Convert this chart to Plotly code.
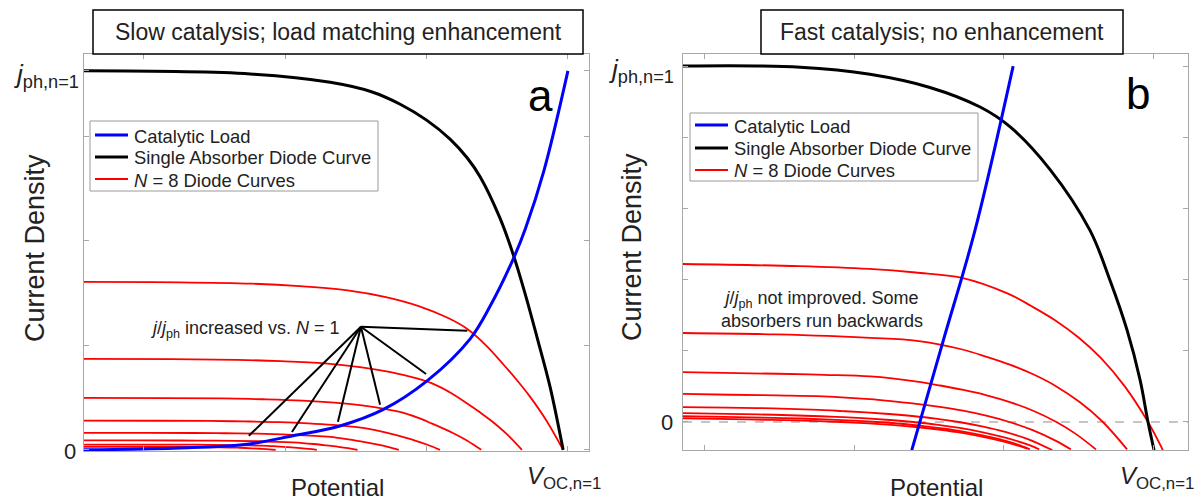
import plotly.graph_objects as go

W, H = 1196, 502

# ---------------- Panel a data (x: V / V_OC,n=1 ; y: j / j_ph,n=1) ----------------
a_load_x = [0, 0.2, 0.34, 0.436, 0.534, 0.624, 0.716, 0.806, 0.848, 0.896, 0.921, 0.96, 1.01]
a_load_y = [0, 0.005, 0.015, 0.037, 0.063, 0.106, 0.182, 0.293, 0.38, 0.504, 0.583, 0.737, 1.0]

a_single_x = [0, 0.347, 0.514, 0.60, 0.66, 0.715, 0.764, 0.80, 0.827, 0.868, 0.896, 0.92, 0.946, 0.973, 1.0]
a_single_y = [1.0, 0.992, 0.97, 0.945, 0.912, 0.87, 0.82, 0.77, 0.72, 0.612, 0.515, 0.415, 0.295, 0.165, 0]

# N = 8 curves of panel a: each is the same read shape, scaled to its own
# short-circuit current (a_red_jsc) and open-circuit potential (a_red_voc)
a_red_jsc = [0.443, 0.24, 0.137, 0.077, 0.045, 0.025, 0.014, 0.008]
a_red_voc = [1.0, 0.914, 0.829, 0.743, 0.657, 0.571, 0.486, 0.40]
a_red_profile_x = [0, 0.2, 0.35, 0.45, 0.55, 0.63, 0.70, 0.76, 0.80, 0.84, 0.875, 0.905, 0.93, 0.965, 1.0]
a_red_profile_y = [1, 0.998, 0.99, 0.975, 0.95, 0.91, 0.855, 0.785, 0.72, 0.62, 0.51, 0.41, 0.32, 0.175, 0]

# ---------------- Panel b data ----------------
b_load_x = [0.492, 0.56, 0.628, 0.71]
b_load_y = [-0.079, 0.23, 0.539, 1.0]

b_single_x = [0, 0.252, 0.402, 0.531, 0.639, 0.703, 0.789, 0.875, 0.918, 0.955, 0.983, 1.0, 1.013]
b_single_y = [1.0, 0.997, 0.977, 0.94, 0.885, 0.83, 0.71, 0.539, 0.399, 0.258, 0.118, 0, -0.079]

b_red_x = [
    [0, 0.25, 0.4, 0.5, 0.6, 0.7, 0.75, 0.8, 0.85, 0.9, 0.95, 1.0, 1.032],
    [0, 0.2, 0.403, 0.503, 0.603, 0.653, 0.703, 0.753, 0.803, 0.853, 0.903, 0.955],
    [0, 0.203, 0.303, 0.403, 0.503, 0.553, 0.603, 0.653, 0.703, 0.753, 0.803, 0.843, 0.888],
    [0, 0.102, 0.202, 0.302, 0.402, 0.452, 0.502, 0.552, 0.602, 0.652, 0.702, 0.752, 0.802, 0.834],
    [0, 0.093, 0.193, 0.293, 0.343, 0.393, 0.443, 0.493, 0.543, 0.593, 0.643, 0.693, 0.743, 0.794],
    [0, 0.095, 0.195, 0.295, 0.345, 0.395, 0.445, 0.495, 0.545, 0.595, 0.645, 0.695, 0.745, 0.766],
    [0, 0.117, 0.217, 0.267, 0.317, 0.367, 0.417, 0.467, 0.517, 0.567, 0.617, 0.667, 0.717, 0.746],
    [0, 0.14, 0.19, 0.24, 0.29, 0.34, 0.39, 0.44, 0.49, 0.54, 0.59, 0.64, 0.69, 0.74],
]
b_red_y = [
    [0.444, 0.438, 0.43, 0.42, 0.405, 0.36, 0.325, 0.286, 0.238, 0.178, 0.100, 0, -0.079],
    [0.25, 0.246, 0.2365, 0.228, 0.203, 0.183, 0.161, 0.134, 0.100, 0.056, 0, -0.077],
    [0.14, 0.1355, 0.1325, 0.128, 0.1135, 0.1025, 0.090, 0.075, 0.056, 0.0315, 0, -0.032, -0.077],
    [0.079, 0.0765, 0.0747, 0.072, 0.064, 0.0578, 0.0509, 0.0423, 0.0317, 0.0178, 0, -0.023, -0.053, -0.077],
    [0.042, 0.0405, 0.0383, 0.034, 0.0307, 0.027, 0.0225, 0.0168, 0.0095, 0, -0.0123, -0.028, -0.0486, -0.079],
    [0.025, 0.0228, 0.0203, 0.0161, 0.0134, 0.010, 0.0056, 0, -0.0073, -0.0168, -0.029, -0.0448, -0.065, -0.077],
    [0.0165, 0.0138, 0.011, 0.0091, 0.0068, 0.0038, 0, -0.005, -0.0114, -0.0197, -0.0304, -0.0442, -0.0622, -0.077],
    [0.0105, 0.0071, 0.0059, 0.0044, 0.0025, 0, -0.0032, -0.0074, -0.0127, -0.0197, -0.0286, -0.0403, -0.0552, -0.0746],
]

# tick positions (same units as data)
a_xticks = [0.125, 0.42, 0.715, 1.01]
a_yticks = [0, 0.276, 0.552, 0.828, 1.0]
b_xticks = [0.047, 0.369, 0.690, 1.011]
b_yticks = [0, 0.2, 0.4, 0.6, 0.8, 1.0]

# annotation pointer lines in panel a (hub -> near each intersection)
a_hub = (0.578, 0.325)
a_pointer_ends = [(0.80, 0.314), (0.714, 0.20), (0.618, 0.119), (0.530, 0.074), (0.434, 0.047), (0.344, 0.037)]

legend_labels = ["Catalytic Load", "Single Absorber Diode Curve", "<i>N</i> = 8 Diode Curves"]

FONT = "Liberation Sans, Arial, Helvetica, sans-serif"
TXT = "#222222"
BLUE, BLACK, RED = "#0000ff", "#000000", "#ff0000"
LEG_COLORS = [BLUE, BLACK, RED]
LEG_WIDTHS = [3, 3, 1.8]


def px(x):
    return x / W


def py(y):
    return 1 - y / H


fig = go.Figure()

# ---- panel a traces ----
for jsc, voc in zip(a_red_jsc, a_red_voc):
    fig.add_trace(go.Scatter(x=[voc * f for f in a_red_profile_x], y=[jsc * f for f in a_red_profile_y],
                             mode="lines", xaxis="x", yaxis="y",
                             line=dict(color=RED, width=1.8, shape="spline"),
                             name="N = 8 Diode Curves", showlegend=False, hoverinfo="skip"))
fig.add_trace(go.Scatter(x=a_single_x, y=a_single_y, mode="lines", xaxis="x", yaxis="y",
                         line=dict(color=BLACK, width=3, shape="spline"),
                         name="Single Absorber Diode Curve", showlegend=False, hoverinfo="skip"))
fig.add_trace(go.Scatter(x=a_load_x, y=a_load_y, mode="lines", xaxis="x", yaxis="y",
                         line=dict(color=BLUE, width=3, shape="spline"),
                         name="Catalytic Load", showlegend=False, hoverinfo="skip"))

# ---- panel b traces ----
for xs, ys in zip(b_red_x, b_red_y):
    fig.add_trace(go.Scatter(x=xs, y=ys, mode="lines", xaxis="x2", yaxis="y2",
                             line=dict(color=RED, width=1.8, shape="spline"),
                             name="N = 8 Diode Curves", showlegend=False, hoverinfo="skip"))
fig.add_trace(go.Scatter(x=b_single_x, y=b_single_y, mode="lines", xaxis="x2", yaxis="y2",
                         line=dict(color=BLACK, width=3, shape="spline"),
                         name="Single Absorber Diode Curve", showlegend=False, hoverinfo="skip"))
fig.add_trace(go.Scatter(x=b_load_x, y=b_load_y, mode="lines", xaxis="x2", yaxis="y2",
                         line=dict(color=BLUE, width=3, shape="spline"),
                         name="Catalytic Load", showlegend=False, hoverinfo="skip"))

axis_style = dict(showline=True, linecolor="#a8a8a8", linewidth=1, mirror="ticks",
                  ticks="inside", ticklen=5, tickcolor="#a8a8a8", showgrid=False,
                  zeroline=False, showticklabels=False, fixedrange=True)

fig.update_layout(
    width=W, height=H, margin=dict(l=0, r=0, t=0, b=0),
    paper_bgcolor="white", plot_bgcolor="white",
    font=dict(family=FONT, color=TXT), showlegend=False,
    xaxis=dict(domain=[px(84), px(589)], range=[0, 1.054], anchor="y", tickvals=a_xticks, **axis_style),
    yaxis=dict(domain=[py(451), py(54)], range=[-0.003, 1.0445], anchor="x", tickvals=a_yticks, **axis_style),
    xaxis2=dict(domain=[px(683), px(1188)], range=[0, 1.086], anchor="y2", tickvals=b_xticks, **axis_style),
    yaxis2=dict(domain=[py(450), py(54)], range=[-0.0787, 1.034], anchor="x2", tickvals=b_yticks, **axis_style),
)

shapes = []
ann = []


def A(text, x, y, size, xanchor="center", yanchor="middle", color=TXT, **kw):
    d = dict(text=text, x=x, y=y, xref="paper", yref="paper", showarrow=False,
             xanchor=xanchor, yanchor=yanchor, font=dict(family=FONT, size=size, color=color))
    d.update(kw)
    ann.append(d)


# zero dashed line panel b
shapes.append(dict(type="line", xref="x2 domain", yref="y2", x0=0, x1=1, y0=0, y1=0,
                   line=dict(color="#8c8c8c", width=1.2, dash="dash"), layer="below"))
# pointer lines panel a
for (ex, ey) in a_pointer_ends:
    shapes.append(dict(type="line", xref="x", yref="y", x0=a_hub[0], y0=a_hub[1], x1=ex, y1=ey,
                       line=dict(color="black", width=2)))
# title boxes
shapes.append(dict(type="rect", xref="paper", yref="paper", x0=px(93), x1=px(583), y0=py(54), y1=py(10),
                   line=dict(color="black", width=1.5), fillcolor="white", layer="above"))
shapes.append(dict(type="rect", xref="paper", yref="paper", x0=px(761), x1=px(1123), y0=py(54), y1=py(10),
                   line=dict(color="black", width=1.5), fillcolor="white", layer="above"))

# legends (boxed key, one per panel)
for (bx0, by0, bx1, by1, rows) in [(90, 121, 378, 191, [135, 157, 179]),
                                   (690, 113, 978, 181, [125, 148, 170])]:
    shapes.append(dict(type="rect", xref="paper", yref="paper", x0=px(bx0), x1=px(bx1), y0=py(by1), y1=py(by0),
                       line=dict(color="#9a9a9a", width=1), fillcolor="white", layer="above"))
    for label, col, lw, ry in zip(legend_labels, LEG_COLORS, LEG_WIDTHS, rows):
        shapes.append(dict(type="line", xref="paper", yref="paper", x0=px(bx0 + 5), x1=px(bx0 + 38),
                           y0=py(ry), y1=py(ry), line=dict(color=col, width=lw), layer="above"))
        A(label, px(bx0 + 42), py(ry + 1), 18.4, xanchor="left")

fig.update_layout(shapes=shapes)

# titles
A("Slow catalysis; load matching enhancement", px(338), py(32), 23)
A("Fast catalysis; no enhancement", px(942), py(32), 23)
# panel letters
A("a", px(540), py(95), 44, color="black")
A("b", px(1138), py(93), 44, color="black")
# tick labels
A("0", px(78), py(451), 22, xanchor="right")
A("<i>j</i><sub>ph,n=1</sub>", px(81), py(76), 26, xanchor="right")
A("0", px(675), py(422), 22, xanchor="right")
A("<i>j</i><sub>ph,n=1</sub>", px(676), py(70), 26, xanchor="right")
A("<i>V</i><sub>OC,n=1</sub>", px(564), py(477), 24)
A("<i>V</i><sub>OC,n=1</sub>", px(1157), py(477), 24)
# axis titles
A("Potential", px(337), py(487), 24)
A("Potential", px(936), py(487), 24)
A("Current Density", px(35), py(248), 27, textangle=-90)
A("Current Density", px(632), py(247), 27, textangle=-90)

# in-plot annotations (data coordinates)
ann.append(dict(text="<i>j</i>/<i>j</i><sub>ph</sub> increased vs. <i>N</i> = 1", x=0.539, y=0.317,
                xref="x", yref="y", showarrow=False, xanchor="right", yanchor="middle",
                font=dict(family=FONT, size=18, color=TXT)))
ann.append(dict(text="<i>j</i>/<i>j</i><sub>ph</sub> not improved. Some<br>absorbers run backwards",
                x=0.299, y=0.315, xref="x2", yref="y2", showarrow=False, xanchor="center",
                yanchor="middle", align="center", font=dict(family=FONT, size=18, color=TXT)))

fig.update_layout(annotations=ann)

fig.write_html("out.html")
